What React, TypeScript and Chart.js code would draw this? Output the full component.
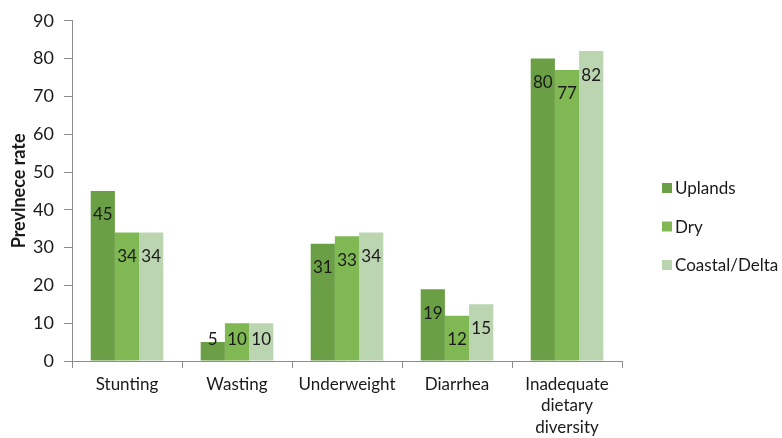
import React, { useEffect, useRef } from "react";
import { Chart, registerables } from "chart.js";

Chart.register(...registerables);

const categories: (string | string[])[] = [
  "Stunting",
  "Wasting",
  "Underweight",
  "Diarrhea",
  ["Inadequate", "dietary", "diversity"],
];
const uplands = [45, 5, 31, 19, 80];
const dry = [34, 10, 33, 12, 77];
const coastal = [34, 10, 34, 15, 82];
const seriesNames = ["Uplands", "Dry", "Coastal/Delta"];
const seriesColors = ["#6a9f45", "#80b954", "#bad5b0"];
const yTicks = [0, 10, 20, 30, 40, 50, 60, 70, 80, 90];

const FONT = "Lato, 'DejaVu Sans', sans-serif";

const labelPlugin = {
  id: "barLabels",
  afterDatasetsDraw(chart: any) {
    const ctx = chart.ctx;
    ctx.save();
    ctx.font = `17px ${FONT}`;
    ctx.fillStyle = "#1a1a1a";
    ctx.textAlign = "center";
    ctx.textBaseline = "middle";
    chart.data.datasets.forEach((ds: any, i: number) => {
      const meta = chart.getDatasetMeta(i);
      meta.data.forEach((bar: any, j: number) => {
        const y = Math.min(bar.y + 24, bar.base - 21);
        ctx.fillText(String(ds.data[j]), bar.x, y);
      });
    });
    ctx.restore();
  },
};

const legendPlugin = {
  id: "customLegend",
  afterDraw(chart: any) {
    const ctx = chart.ctx;
    ctx.save();
    ctx.font = `17px ${FONT}`;
    ctx.textBaseline = "middle";
    ctx.textAlign = "left";
    seriesNames.forEach((name, i) => {
      const cy = 188 + i * 38.5;
      ctx.fillStyle = seriesColors[i];
      ctx.fillRect(662, cy - 5, 10, 10);
      ctx.fillStyle = "#1a1a1a";
      ctx.fillText(name, 675, cy + 1);
    });
    ctx.restore();
  },
};

export default function App() {
  const ref = useRef<HTMLCanvasElement | null>(null);
  useEffect(() => {
    if (!ref.current) return;
    const chart = new Chart(ref.current, {
      type: "bar",
      data: {
        labels: categories as any,
        datasets: [uplands, dry, coastal].map((d, i) => ({
          label: seriesNames[i],
          data: d,
          backgroundColor: seriesColors[i],
          borderWidth: 0,
          categoryPercentage: 0.66,
          barPercentage: 1.0,
        })),
      },
      options: {
        animation: false,
        responsive: false,
        maintainAspectRatio: false,
        layout: { padding: { top: 10, right: 160, left: 0, bottom: 0 } },
        plugins: {
          legend: { display: false },
          tooltip: { enabled: false },
        },
        scales: {
          x: {
            grid: {
              display: true,
              drawOnChartArea: false,
              offset: true,
              tickLength: 7,
              color: "#8c8c8c",
            },
            border: { color: "#8c8c8c", width: 1 },
            ticks: {
              color: "#1a1a1a",
              font: { family: FONT, size: 17, lineHeight: 1.25 },
              maxRotation: 0,
              padding: 6,
            },
            afterFit(scale: any) {
              scale.height = 77;
            },
          },
          y: {
            min: 0,
            max: 90,
            afterBuildTicks(scale: any) {
              scale.ticks = yTicks.map((v) => ({ value: v }));
            },
            grid: {
              display: true,
              drawOnChartArea: false,
              tickLength: 8,
              color: "#8c8c8c",
            },
            border: { color: "#8c8c8c", width: 1 },
            ticks: {
              color: "#1a1a1a",
              font: { family: FONT, size: 18 },
              padding: 10,
            },
            title: {
              display: true,
              text: "Prevlnece rate",
              color: "#1a1a1a",
              font: { family: FONT, size: 18, weight: "bold" },
              padding: { top: 8, bottom: 4 },
            },
            afterFit(scale: any) {
              scale.width = 72;
            },
          },
        },
      },
      plugins: [labelPlugin, legendPlugin],
    });
    return () => chart.destroy();
  }, []);
  return (
    <div style={{ position: "fixed", left: 0, top: 0, width: 782, height: 438, background: "#fff" }}>
      <canvas ref={ref} width={782} height={438} style={{ width: 782, height: 438 }} />
    </div>
  );
}
